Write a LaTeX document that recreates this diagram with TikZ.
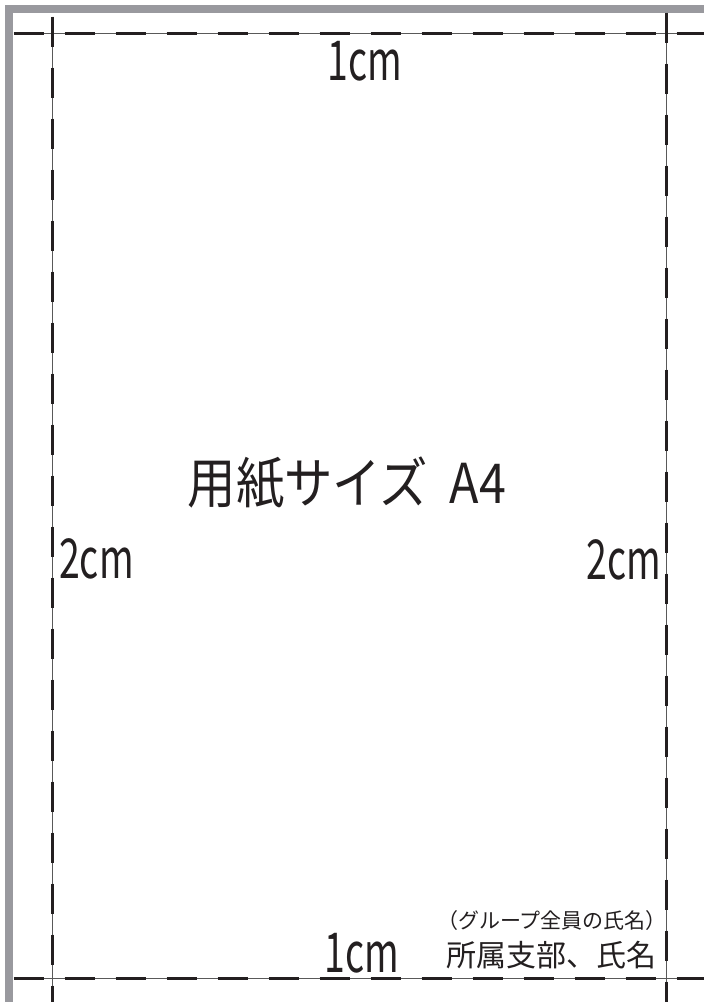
\documentclass[tikz,border=0pt]{standalone}
\usepackage{fontspec}
\setmainfont{Noto Sans CJK JP}
\definecolor{bordergray}{RGB}{153,153,158}
\definecolor{ink}{RGB}{35,31,32}
\begin{document}
\begin{tikzpicture}[x=1pt,y=-1pt,
  guide/.style={draw=gray!70!black,line width=0.8pt},
  dashes/.style={draw=ink,line width=3pt,dash pattern=on 30.5pt off 20.5pt},
  unit/.style={inner sep=0pt,text=ink,font=\fontsize{55}{60}\selectfont},
  label/.style={inner sep=0pt,text=ink}]
\useasboundingbox (0,0) rectangle (704,1002);
\fill[white] (0,0) rectangle (704,1002);
% page edge
\fill[bordergray] (5,5) rectangle (704,12.7);
\fill[bordergray] (5,5) rectangle (12.7,1002);
% guide coordinates
\coordinate (tl) at (13.5,33);
\coordinate (tr) at (704,33);
\coordinate (bl) at (13.5,978);
\coordinate (br) at (704,978);
\coordinate (lt) at (52,16.5);
\coordinate (lb) at (52,1002);
\coordinate (rt) at (666,12.7);
\coordinate (rb) at (666,1002);
% thin lines
\draw[guide] (tl) -- (tr);
\draw[guide] (bl) -- (br);
\draw[guide] (lt) -- (lb);
\draw[guide] (rt) -- (rb);
% dashes
\draw[dashes] (tl) -- (tr);
\draw[dashes] (bl) -- (br);
\draw[dashes] (lt) -- (lb);
\draw[dashes] (rt) -- (rb);
% labels
\node[unit,anchor=base] (top) at (365,80) {\scalebox{0.68}[1]{1cm}};
\node[unit,anchor=base] (bot) at (362,972) {\scalebox{0.68}[1]{1cm}};
\node[unit,anchor=base west] (left) at (59,578) {\scalebox{0.68}[1]{2cm}};
\node[unit,anchor=base east] (right) at (661,579) {\scalebox{0.68}[1]{2cm}};
\node[label,anchor=base,font=\fontsize{55}{60}\selectfont] (title) at (347,503)
  {\scalebox{0.88}[1]{用紙サイズ\hspace{0.45em}A4}};
\node[label,anchor=base,font=\fontsize{21}{24}\selectfont] (group) at (552,928) {（グループ全員の氏名）};
\node[label,anchor=base,font=\fontsize{30}{34}\selectfont] (name) at (551.5,966) {所属支部、氏名};
\end{tikzpicture}
\end{document}
